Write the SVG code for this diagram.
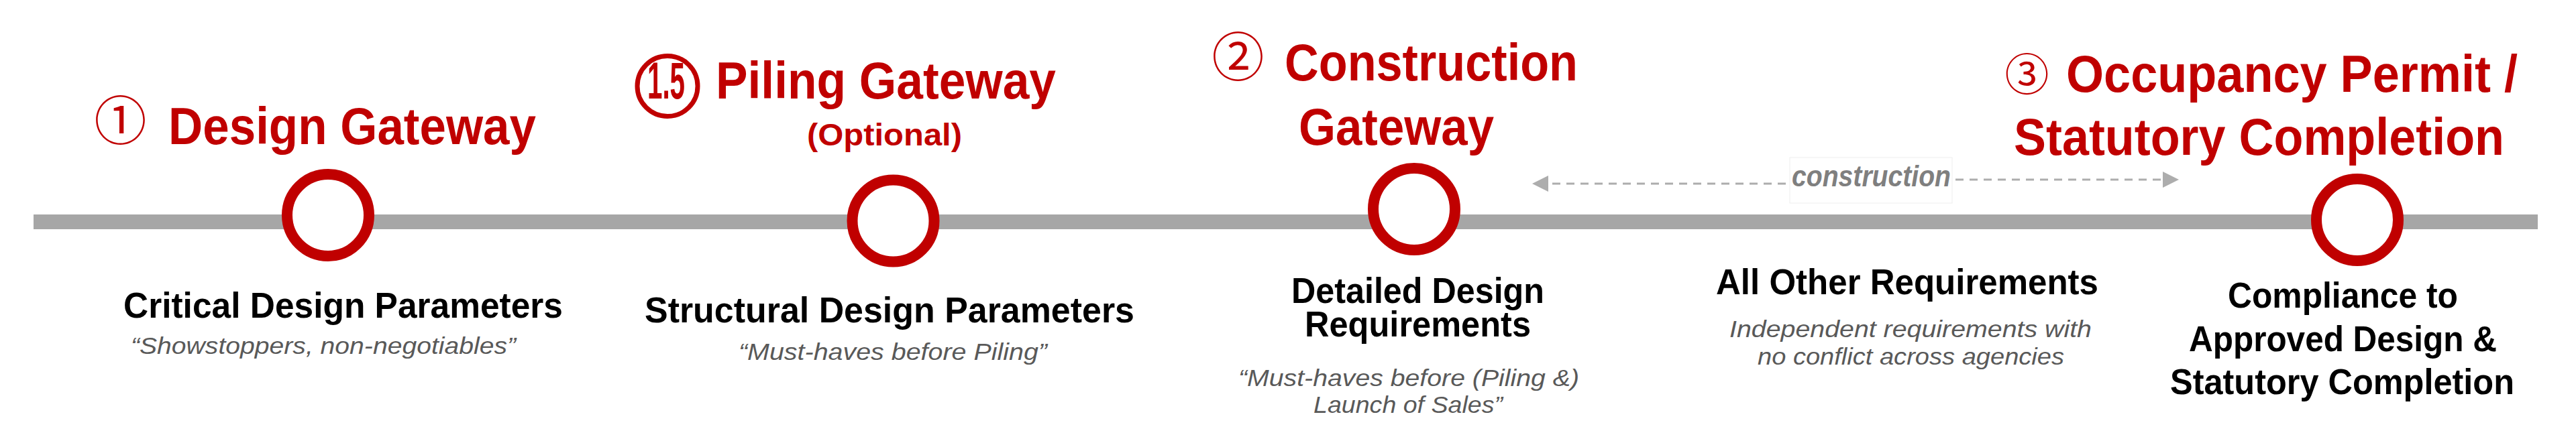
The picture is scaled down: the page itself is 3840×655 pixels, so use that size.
<svg xmlns="http://www.w3.org/2000/svg" width="3840" height="655" viewBox="0 0 3840 655">
  <style>
    .title { font-family: 'Liberation Sans Narrow', 'Liberation Sans', Arial, sans-serif; font-weight: bold; fill: #C00000; font-size: 77px; }
    .sub { font-family: 'Liberation Sans Narrow', 'Liberation Sans', Arial, sans-serif; font-weight: bold; fill: #C00000; font-size: 46px; }
    .num { font-family: 'Noto Sans CJK JP', 'DejaVu Sans', sans-serif; font-weight: normal; fill: #C00000; }
    .lbl { font-family: 'Liberation Sans Narrow', 'Liberation Sans', Arial, sans-serif; font-weight: bold; fill: #000000; font-size: 53px; }
    .note { font-family: 'Liberation Sans', Arial, sans-serif; font-style: italic; fill: #595959; font-size: 35px; }
    .node { fill: #FFFFFF; stroke: #C00000; stroke-width: 16; }
    .dash { fill: none; stroke: #ADADAD; stroke-width: 3; stroke-dasharray: 12 9; }
    .cons { font-family: 'Liberation Sans', Arial, sans-serif; font-weight: bold; font-style: italic; fill: #7F7F7F; font-size: 44px; }
  </style>
  <defs>
    <marker id="arrow" markerUnits="userSpaceOnUse" markerWidth="24" markerHeight="24" refX="24" refY="12" orient="auto">
      <path d="M0,0 L24,12 L0,24 Z" fill="#ADADAD"/>
    </marker>
  </defs>
  <rect width="3840" height="655" fill="#FFFFFF"/>

  <g id="timeline">
    <rect x="50" y="320" width="3733" height="22" fill="#A6A6A6"/>
  </g>

  <g id="connectors">
    <line class="dash" x1="2662" y1="274" x2="2284" y2="274" marker-end="url(#arrow)"/>
    <line class="dash" x1="2915" y1="268" x2="3248" y2="268" marker-end="url(#arrow)"/>
    <g id="construction-label">
      <rect x="2668" y="235" width="242" height="68" fill="#FFFFFF" stroke="#EEEEEE" stroke-width="1"/>
      <text class="cons" x="2671" y="278" textLength="237" lengthAdjust="spacingAndGlyphs">construction</text>
    </g>
  </g>

  <g id="gate-design">
    <text class="num" x="179.5" y="209" font-size="78" text-anchor="middle">①</text>
    <text class="title" x="251" y="215" textLength="548" lengthAdjust="spacingAndGlyphs">Design Gateway</text>
    <circle class="node" cx="489" cy="321" r="61"/>
    <text class="lbl" x="184" y="474" textLength="655" lengthAdjust="spacingAndGlyphs">Critical Design Parameters</text>
    <text class="note" x="195" y="528" textLength="574" lengthAdjust="spacingAndGlyphs">“Showstoppers, non-negotiables”</text>
  </g>

  <g id="gate-piling">
    <circle cx="995" cy="128.5" r="45" fill="none" stroke="#C00000" stroke-width="7"/>
    <text class="title" x="993" y="147" font-size="53" text-anchor="middle" textLength="56" lengthAdjust="spacingAndGlyphs">1.5</text>
    <text class="title" x="1067" y="147" textLength="507" lengthAdjust="spacingAndGlyphs">Piling Gateway</text>
    <text class="sub" x="1203" y="217" textLength="231" lengthAdjust="spacingAndGlyphs">(Optional)</text>
    <circle class="node" cx="1331.5" cy="329.5" r="61"/>
    <text class="lbl" x="961" y="481" textLength="730" lengthAdjust="spacingAndGlyphs">Structural Design Parameters</text>
    <text class="note" x="1101" y="537" textLength="460" lengthAdjust="spacingAndGlyphs">“Must-haves before Piling”</text>
  </g>

  <g id="gate-construction">
    <text class="num" x="1845.5" y="114" font-size="78" text-anchor="middle">②</text>
    <text class="title" x="1915" y="120" textLength="437" lengthAdjust="spacingAndGlyphs">Construction</text>
    <text class="title" x="1936" y="216" textLength="291" lengthAdjust="spacingAndGlyphs">Gateway</text>
    <circle class="node" cx="2108" cy="312" r="61"/>
    <text class="lbl" x="1925" y="452" textLength="377" lengthAdjust="spacingAndGlyphs">Detailed Design</text>
    <text class="lbl" x="1945" y="502" textLength="337" lengthAdjust="spacingAndGlyphs">Requirements</text>
    <text class="note" x="1846" y="576" textLength="508" lengthAdjust="spacingAndGlyphs">“Must-haves before (Piling &amp;)</text>
    <text class="note" x="1958" y="616" textLength="282" lengthAdjust="spacingAndGlyphs">Launch of Sales”</text>
  </g>

  <g id="other-requirements">
    <text class="lbl" x="2558" y="439" textLength="570" lengthAdjust="spacingAndGlyphs">All Other Requirements</text>
    <text class="note" x="2578" y="503" textLength="540" lengthAdjust="spacingAndGlyphs">Independent requirements with</text>
    <text class="note" x="2620" y="544" textLength="457" lengthAdjust="spacingAndGlyphs">no conflict across agencies</text>
  </g>

  <g id="gate-occupancy">
    <text class="num" x="3021.5" y="134.5" font-size="66" text-anchor="middle">③</text>
    <text class="title" x="3080" y="137" textLength="673" lengthAdjust="spacingAndGlyphs">Occupancy Permit /</text>
    <text class="title" x="3002" y="231" textLength="731" lengthAdjust="spacingAndGlyphs">Statutory Completion</text>
    <circle class="node" cx="3514" cy="328" r="61"/>
    <text class="lbl" x="3321" y="459" textLength="343" lengthAdjust="spacingAndGlyphs">Compliance to</text>
    <text class="lbl" x="3263" y="524" textLength="459" lengthAdjust="spacingAndGlyphs">Approved Design &amp;</text>
    <text class="lbl" x="3235" y="588" textLength="513" lengthAdjust="spacingAndGlyphs">Statutory Completion</text>
  </g>
</svg>
